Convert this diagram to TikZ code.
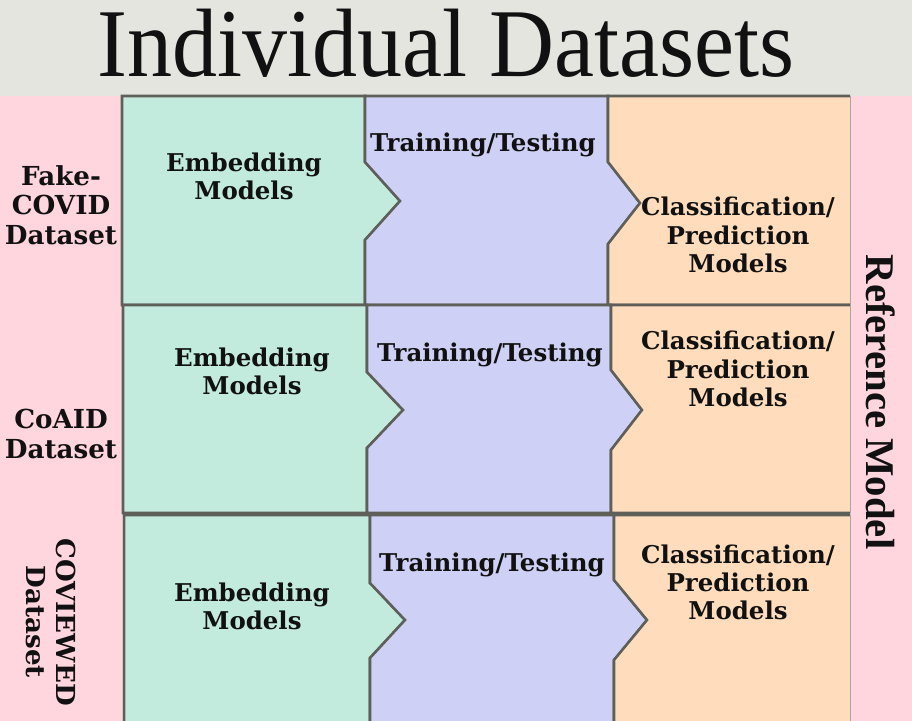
\documentclass[tikz,border=0pt]{standalone}
\usepackage{fontspec}
\setmainfont{Liberation Serif}
\newfontfamily\labelfont{DejaVu Serif}

\definecolor{bandgray}{RGB}{229,229,224}
\definecolor{sidepink}{RGB}{255,214,221}
\definecolor{embgreen}{RGB}{194,235,222}
\definecolor{trainblue}{RGB}{206,209,245}
\definecolor{clspeach}{RGB}{255,221,188}
\definecolor{edgegray}{RGB}{95,95,90}
\definecolor{inkblack}{RGB}{17,17,17}

\tikzset{
    cell/.style={draw=edgegray, line width=1.8pt, line join=miter},
    boxtext/.style={font=\labelfont\bfseries\fontsize{17.4}{20}\selectfont, align=center, text=inkblack},
    settext/.style={boxtext, font=\labelfont\bfseries\fontsize{18.6}{21}\selectfont},
    sideline/.style={draw=edgegray!55, line width=0.6pt},
}

\begin{document}
\begin{tikzpicture}[x=0.025cm, y=-0.025cm]
        \useasboundingbox (0,0) rectangle (912,721);
        \clip (0,0) rectangle (912,721);

        % bands
        \fill[bandgray] (0,0) rectangle (912,96);
        \fill[sidepink] (0,96) rectangle (122,721);
        \fill[sidepink] (850,96) rectangle (912,721);

        % row 1
        \filldraw[cell, fill=embgreen] (122,96) -- (365,96) -- (365,162) -- (400,201) -- (365,240) -- (365,305) -- (122,305) -- cycle;
        \filldraw[cell, fill=trainblue] (365,96) -- (608,96) -- (608,162) -- (640,203) -- (608,244) -- (608,305) -- (365,305) -- (365,240) -- (400,201) -- (365,162) -- cycle;
        \fill[clspeach] (608,96) -- (850,96) -- (850,305) -- (608,305) -- (608,244) -- (640,203) -- (608,162) -- cycle;
        \draw[cell] (850,96) -- (608,96) -- (608,162) -- (640,203) -- (608,244) -- (608,305) -- (850,305);
        \draw[sideline] (850,96) -- (850,305);

        % row 2
        \filldraw[cell, fill=embgreen] (123,305) -- (367,305) -- (367,372) -- (403,410) -- (367,448) -- (367,513) -- (123,513) -- cycle;
        \filldraw[cell, fill=trainblue] (367,305) -- (611,305) -- (611,370) -- (642,410) -- (611,450) -- (611,513) -- (367,513) -- (367,448) -- (403,410) -- (367,372) -- cycle;
        \fill[clspeach] (611,305) -- (850,305) -- (850,513) -- (611,513) -- (611,450) -- (642,410) -- (611,370) -- cycle;
        \draw[cell] (850,305) -- (611,305) -- (611,370) -- (642,410) -- (611,450) -- (611,513) -- (850,513);
        \draw[sideline] (850,305) -- (850,513);

        % row 3
        \filldraw[cell, fill=embgreen] (124,515) -- (370,515) -- (370,583) -- (405,620) -- (370,658) -- (370,730) -- (124,730) -- cycle;
        \filldraw[cell, fill=trainblue] (370,515) -- (614,515) -- (614,580) -- (647,620) -- (614,660) -- (614,730) -- (370,730) -- (370,658) -- (405,620) -- (370,583) -- cycle;
        \fill[clspeach] (614,515) -- (850,515) -- (850,730) -- (614,730) -- (614,660) -- (647,620) -- (614,580) -- cycle;
        \draw[cell] (850,515) -- (614,515) -- (614,580) -- (647,620) -- (614,660) -- (614,730);
        \draw[sideline] (850,515) -- (850,730);

        % title
        \node[font=\fontsize{64}{70}\selectfont, text=inkblack, anchor=base] (title) at (446,77) {\scalebox{1}[1.08]{Individual Datasets}};

        % datasets
        \node[settext] (fakecovid) at (61,205) {Fake-\\COVID\\Dataset};
        \node[settext] (coaid) at (61,434) {CoAID\\Dataset};
        \node[settext, rotate=-90] (coviewed) at (51,622) {COVIEWED\\Dataset};

        % embedding models
        \node[boxtext] (emb1) at (244,176) {Embedding\\Models};
        \node[boxtext] (emb2) at (252,371) {Embedding\\Models};
        \node[boxtext] (emb3) at (252,606) {Embedding\\Models};

        % training / testing
        \node[boxtext] (train1) at (483,145) {Training/Testing};
        \node[boxtext] (train2) at (490,355) {Training/Testing};
        \node[boxtext] (train3) at (492,565) {Training/Testing};

        % classification models
        \node[boxtext] (cls1) at (738,235) {Classification/\\Prediction\\Models};
        \node[boxtext] (cls2) at (738,369) {Classification/\\Prediction\\Models};
        \node[boxtext] (cls3) at (738,582) {Classification/\\Prediction\\Models};

        % reference model
        \node[font=\bfseries\fontsize{29}{32}\selectfont, text=inkblack, rotate=-90] (refmodel) at (881,402) {Reference Model};
    \end{tikzpicture}
\end{document}
